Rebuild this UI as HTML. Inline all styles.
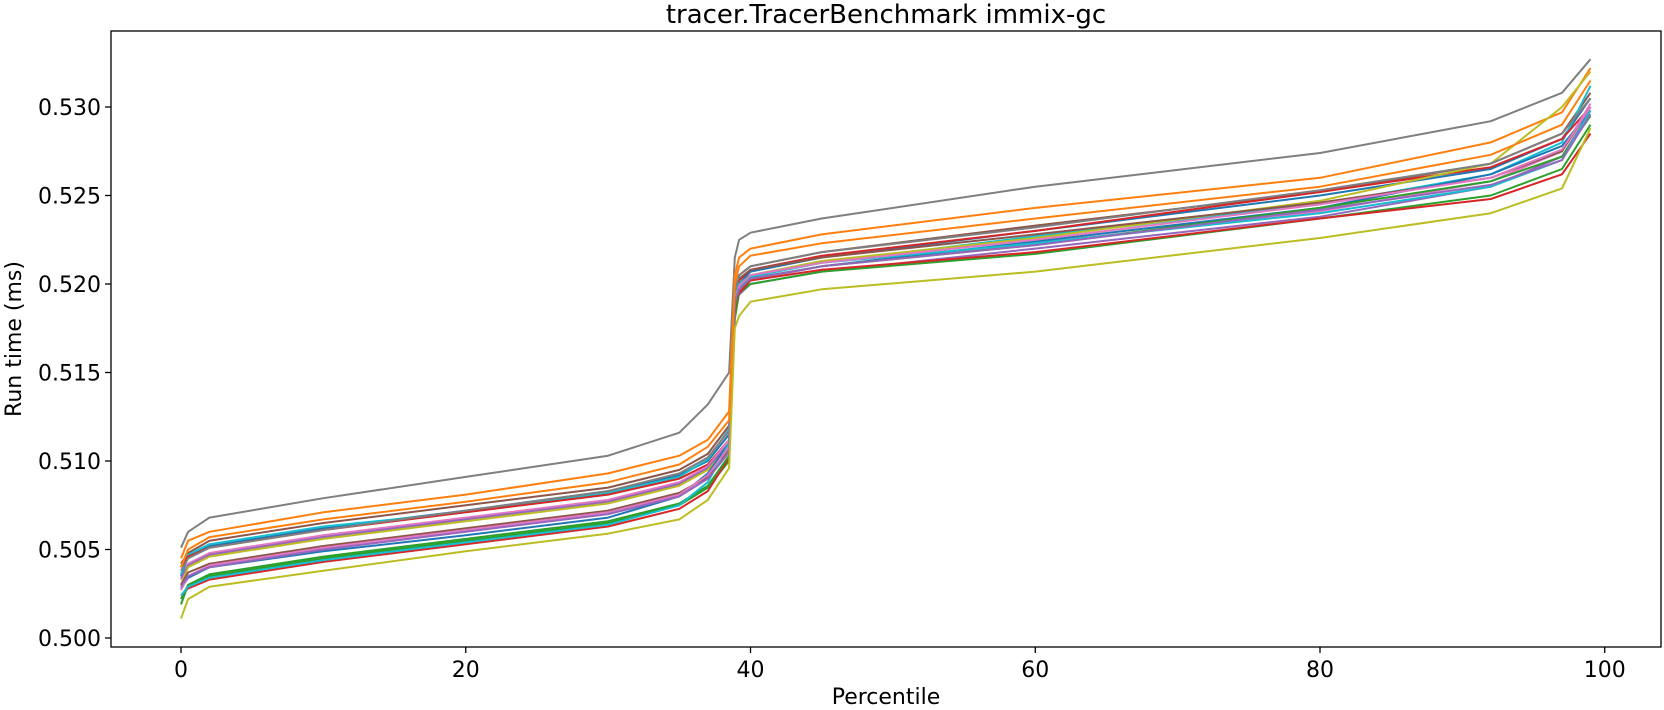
<!DOCTYPE html>
<html><head><meta charset="utf-8"><style>
html,body{margin:0;padding:0;background:#fff;}
svg{display:block;font-family:"DejaVu Sans","Liberation Sans",sans-serif;}
</style></head><body>
<svg id="chart" width="1664" height="710" viewBox="0 0 1664 710">
<text x="886" y="23" font-size="26" text-anchor="middle">tracer.TracerBenchmark immix-gc</text>
<g id="plot"></g>
<g id="axes"></g>
<text x="886" y="704" font-size="22" text-anchor="middle">Percentile</text>
<text transform="translate(21,339) rotate(-90)" font-size="22" text-anchor="middle">Run time (ms)</text>
</svg>
<script>
const percentiles = [0,0.5,2,10,20,30,35,37,38.5,38.9,39.2,40,45,60,80,92,97,99];
const xTicks = [0,20,40,60,80,100];
const yTicks = [0.500,0.505,0.510,0.515,0.520,0.525,0.530];
const seriesColors = ["#7f7f7f","#ff7f0e","#8c564b","#1f77b4","#17becf","#d62728","#e377c2","#9467bd","#bcbd22","#8c564b","#7f7f7f","#1f77b4","#2ca02c","#d62728","#2ca02c","#17becf","#e377c2","#9467bd","#bcbd22","#ff7f0e"];
const s1 = [.5051,.5060,.5068,.5079,.5091,.5103,.5116,.5132,.5150,.5215,.5225,.5229,.5237,.5255,.5274,.5292,.5308,.5327];
const s2 = [.5045,.5055,.5060,.5071,.5081,.5093,.5103,.5112,.5128,.5205,.5215,.5220,.5228,.5243,.5260,.5280,.5297,.5322];
const s3 = [.5042,.5048,.5055,.5065,.5075,.5085,.5095,.5104,.5120,.5195,.5205,.5210,.5218,.5233,.5252,.5268,.5285,.5308];
const s4 = [.5035,.5046,.5052,.5062,.5072,.5083,.5092,.5100,.5115,.5192,.5200,.5207,.5215,.5230,.5250,.5265,.5282,.5305];
const s5 = [.5036,.5047,.5053,.5063,.5071,.5082,.5091,.5101,.5118,.5188,.5198,.5204,.5212,.5227,.5245,.5262,.5280,.5312];
const s6 = [.5040,.5046,.5051,.5061,.5071,.5081,.5090,.5098,.5112,.5192,.5202,.5208,.5216,.5230,.5252,.5266,.5282,.5300];
const s7 = [.5033,.5042,.5048,.5058,.5068,.5078,.5088,.5097,.5112,.5190,.5196,.5202,.5210,.5223,.5241,.5258,.5275,.5302];
const s8 = [.5034,.5041,.5047,.5057,.5067,.5077,.5087,.5096,.5110,.5187,.5194,.5200,.5207,.5220,.5238,.5255,.5272,.5298];
const s9 = [.5030,.5040,.5046,.5056,.5066,.5076,.5086,.5095,.5108,.5190,.5199,.5205,.5213,.5226,.5247,.5268,.5300,.5320];
const s10 = [.5030,.5037,.5042,.5052,.5062,.5072,.5082,.5091,.5107,.5195,.5203,.5208,.5215,.5228,.5246,.5260,.5275,.5300];
const s11 = [.5038,.5045,.5051,.5061,.5072,.5083,.5093,.5102,.5117,.5196,.5205,.5210,.5218,.5232,.5253,.5268,.5285,.5305];
const s12 = [.5028,.5034,.5040,.5049,.5058,.5068,.5080,.5093,.5110,.5188,.5197,.5203,.5210,.5224,.5243,.5262,.5278,.5298];
const s13 = [.5022,.5030,.5035,.5045,.5055,.5065,.5075,.5085,.5100,.5180,.5195,.5200,.5207,.5217,.5237,.5250,.5265,.5290];
const s14 = [.5024,.5028,.5033,.5043,.5053,.5063,.5073,.5083,.5102,.5185,.5195,.5202,.5208,.5218,.5237,.5248,.5262,.5285];
const s15 = [.5019,.5030,.5036,.5046,.5056,.5066,.5076,.5086,.5103,.5186,.5197,.5203,.5210,.5222,.5243,.5258,.5272,.5295];
const s16 = [.5024,.5029,.5034,.5044,.5054,.5064,.5075,.5088,.5110,.5192,.5200,.5205,.5212,.5223,.5240,.5255,.5270,.5298];
const s17 = [.5027,.5035,.5041,.5051,.5061,.5071,.5081,.5092,.5108,.5190,.5199,.5205,.5212,.5225,.5245,.5260,.5276,.5300];
const s18 = [.5029,.5035,.5040,.5050,.5060,.5070,.5080,.5090,.5105,.5190,.5197,.5203,.5210,.5222,.5242,.5256,.5270,.5296];
const s19 = [.5011,.5022,.5029,.5038,.5049,.5059,.5067,.5078,.5096,.5175,.5182,.5190,.5197,.5207,.5226,.5240,.5254,.5288];
const s20 = [.5040,.5050,.5057,.5067,.5077,.5088,.5098,.5108,.5123,.5200,.5210,.5216,.5223,.5237,.5255,.5273,.5290,.5315];
const allSeries = [s1,s2,s3,s4,s5,s6,s7,s8,s9,s10,s11,s12,s13,s14,s15,s16,s17,s18,s19,s20];

const NS = "http://www.w3.org/2000/svg";
const L=111, R=1661, T=31, B=647;
function xs(p){ return 181 + (1320-181)*p/80; }
function ys(v){ return 638 - (638-107)*(v-0.5)/0.03; }

const plot = document.getElementById('plot');
allSeries.forEach((vals,i)=>{
  const pl = document.createElementNS(NS,'polyline');
  pl.setAttribute('points', vals.map((v,j)=>xs(percentiles[j]).toFixed(1)+','+ys(v).toFixed(1)).join(' '));
  pl.setAttribute('fill','none');
  pl.setAttribute('stroke',seriesColors[i]);
  pl.setAttribute('stroke-width','2');
  pl.setAttribute('stroke-linejoin','round');
  
  
  plot.appendChild(pl);
});

const axes = document.getElementById('axes');
const frame = document.createElementNS(NS,'rect');
frame.setAttribute('x',L); frame.setAttribute('y',T);
frame.setAttribute('width',R-L); frame.setAttribute('height',B-T);
frame.setAttribute('fill','none'); frame.setAttribute('stroke','#000'); frame.setAttribute('stroke-width','1.3');


axes.appendChild(frame);

xTicks.forEach(t=>{
  const x = xs(t);
  const ln = document.createElementNS(NS,'line');
  ln.setAttribute('x1',x); ln.setAttribute('x2',x); ln.setAttribute('y1',B); ln.setAttribute('y2',B+6);
  ln.setAttribute('stroke','#000'); ln.setAttribute('stroke-width','1.3');
  
  
  axes.appendChild(ln);
  const tx = document.createElementNS(NS,'text');
  tx.setAttribute('x',x); tx.setAttribute('y',B+30);
  tx.setAttribute('font-size','22'); tx.setAttribute('text-anchor','middle');
  tx.textContent = t;
  
  
  axes.appendChild(tx);
});
yTicks.forEach(t=>{
  const y = ys(t);
  const ln = document.createElementNS(NS,'line');
  ln.setAttribute('x1',L-6); ln.setAttribute('x2',L); ln.setAttribute('y1',y); ln.setAttribute('y2',y);
  ln.setAttribute('stroke','#000'); ln.setAttribute('stroke-width','1.3');
  
  
  axes.appendChild(ln);
  const tx = document.createElementNS(NS,'text');
  tx.setAttribute('x',L-10); tx.setAttribute('y',y+8);
  tx.setAttribute('font-size','22'); tx.setAttribute('text-anchor','end');
  tx.textContent = t.toFixed(3);
  
  
  axes.appendChild(tx);
});
</script>
</body></html>
